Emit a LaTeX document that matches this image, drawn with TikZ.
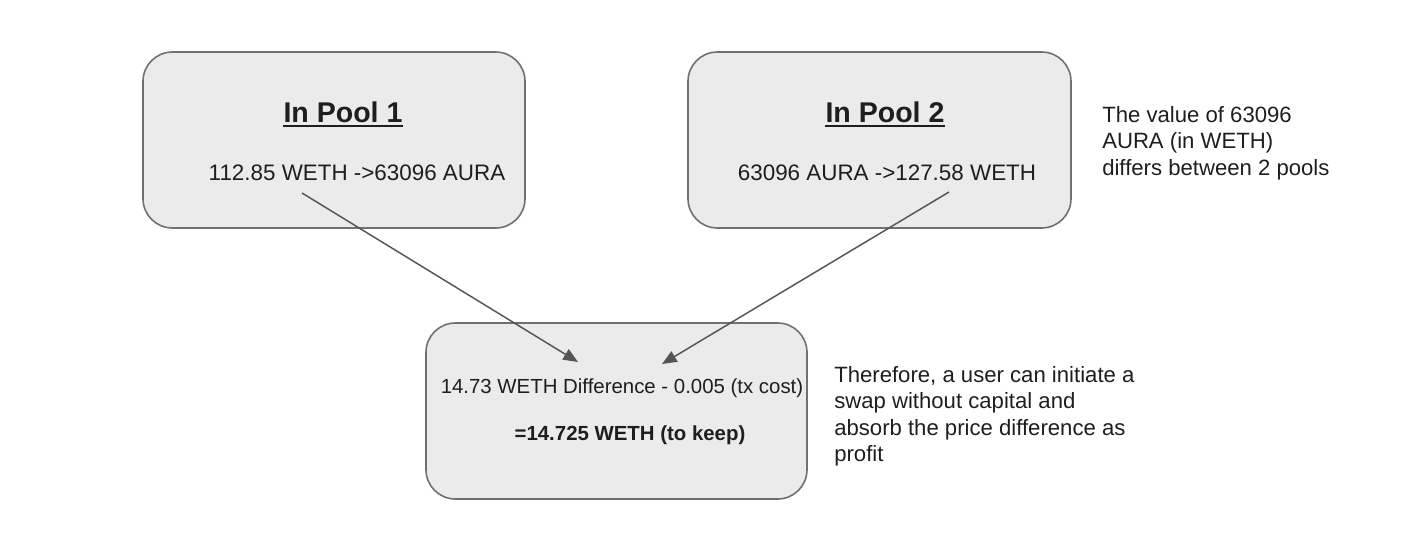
\documentclass[tikz,border=0pt]{standalone}
\usepackage{fontspec}
\setmainfont{Liberation Sans}
\usetikzlibrary{arrows.meta}
\definecolor{boxfill}{HTML}{EBEBEB}
\definecolor{boxline}{HTML}{707070}
\definecolor{txt}{HTML}{1E1E1E}
\definecolor{arr}{HTML}{555555}
\tikzset{
  pool/.style={draw=boxline, fill=boxfill, line width=1.2pt, rounded corners=22pt},
  title/.style={inner sep=0pt, anchor=base, text=txt, font=\fontsize{21.4}{25}\selectfont\bfseries},
  body/.style={inner sep=0pt, anchor=base, text=txt, font=\fontsize{16.8}{20}\selectfont},
  small/.style={inner sep=0pt, anchor=base, text=txt, font=\fontsize{15.3}{18}\selectfont},
  note/.style={inner sep=0pt, anchor=north west, align=left, text=txt, font=\fontsize{16.6}{19.8}\selectfont},
  uline/.style={draw=txt, line width=1.3pt},
  conn/.style={draw=arr, line width=1.1pt, -{Triangle[length=11pt,width=9pt]}}
}
\begin{document}
\begin{tikzpicture}[x=0.75pt,y=-0.75pt]
\useasboundingbox (0,0) rectangle (1422,540);
% boxes
\draw[pool] (143,52) rectangle (525,228);
\draw[pool] (688,52) rectangle (1071,228);
\draw[pool] (426,323) rectangle (807,499);
% pool 1
\node[title] (t1) at (343,122) {In Pool 1};
\draw[uline] ([yshift=-3.2pt]t1.base west) -- ([yshift=-3.2pt]t1.base east);
\node[body] (p1) at (357,180) {112.85 WETH ->63096 AURA};
% pool 2
\node[title] (t2) at (885,122) {In Pool 2};
\draw[uline] ([yshift=-3.2pt]t2.base west) -- ([yshift=-3.2pt]t2.base east);
\node[body] (p2) at (887,180) {63096 AURA ->127.58 WETH};
% result box
\node[small] (r1) at (622,393) {14.73 WETH Difference - 0.005 (tx cost)};
\node[small] (r2) at (630,440) {\bfseries =14.725 WETH (to keep)};
% notes
\node[note] (n1) at (1102,106) {The value of 63096\\AURA (in WETH)\\differs between 2 pools};
\node[note] (n2) at (834,366) {Therefore, a user can initiate a\\swap without capital and\\absorb the price difference as\\profit};
% connectors
\coordinate (a1s) at (302,193);
\coordinate (a1e) at (578,362);
\coordinate (a2s) at (949,192);
\coordinate (a2e) at (662,364);
\draw[conn] (a1s) -- (a1e);
\draw[conn] (a2s) -- (a2e);
\end{tikzpicture}
\end{document}
